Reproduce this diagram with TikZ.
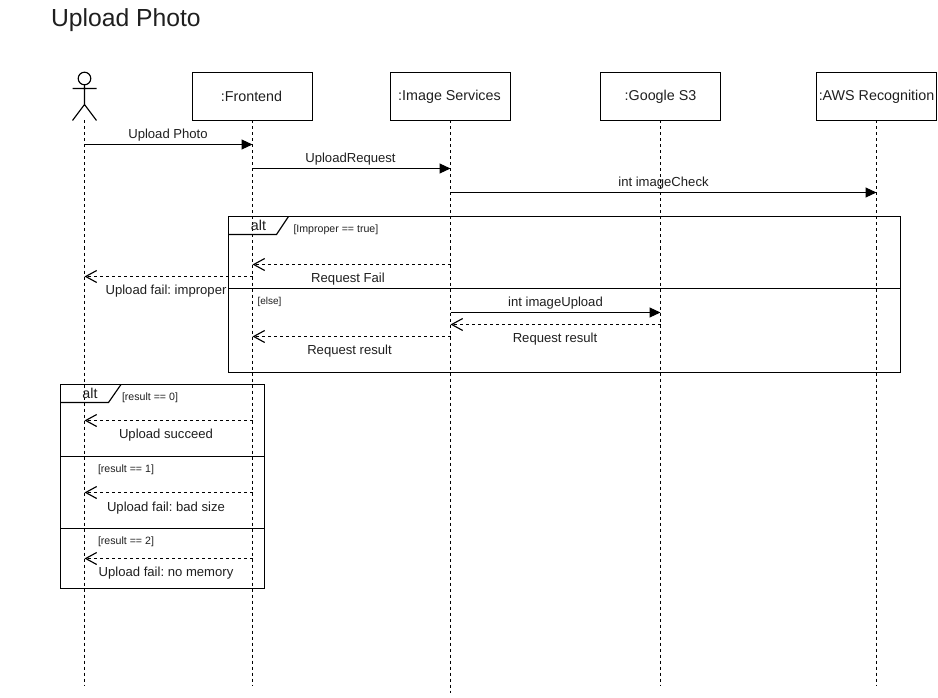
\documentclass[tikz,border=0pt]{standalone}
\usepackage{fontspec}
\setmainfont{Liberation Sans}
\usetikzlibrary{arrows.meta}
\definecolor{ink}{HTML}{000000}
\tikzset{
  x=1pt,y=-1pt,
  every node/.style={inner sep=0pt,outer sep=0pt,text=ink!88!white},
  headbox/.style={draw=ink,line width=1.15pt,minimum width=120pt,minimum height=48pt,font=\fontsize{14.3}{16}\selectfont},
  life/.style={draw=ink,line width=1.15pt,dash pattern=on 3pt off 3pt},
  call/.style={draw=ink,line width=1.15pt,-{Triangle[length=11pt,width=10pt]}},
  reply/.style={draw=ink,line width=1.15pt,dash pattern=on 3pt off 3pt,-{Straight Barb[length=11pt,width=12pt]}},
  msglabel/.style={font=\fontsize{13.1}{15}\selectfont,yshift=-2pt,xshift=-0.5pt},
  guard/.style={font=\fontsize{10.6}{12}\selectfont,anchor=west,yshift=-2pt},
  frameline/.style={draw=ink,line width=1.15pt},
  alttag/.style={font=\fontsize{14.3}{16}\selectfont},
}
\newcommand{\msgline}[5]{%
  \draw[#1] (#2 |- 0,#4) -- (#3 |- 0,#4);}
\begin{document}
\begin{tikzpicture}
\frenchspacing
\useasboundingbox (0,0) rectangle (938,698);
\node[anchor=west,font=\fontsize{24.7}{28}\selectfont] (title) at (51,20) {Upload Photo};
% actor
\coordinate (A) at (84.5,120.5);
\draw[line width=1.15pt,draw=ink] (84.5,78.5) circle (6.3);
\draw[line width=1.15pt,draw=ink] (84.5,84.5) -- (84.5,104.5) (72.5,88.5) -- (96.5,88.5) (72.5,120.5) -- (84.5,104.5) -- (96.5,120.5);
% heads
\node[headbox] (F) at (252.5,96.5) {\kern-2pt:Frontend};
\node[headbox] (I) at (450.5,96.5) {\kern-2pt:Image Services};
\node[headbox] (G) at (660.5,96.5) {:Google S3};
\node[headbox] (W) at (876.5,96.5) {:AWS Recognition};
\coordinate (Aend) at (84.5,685);
\coordinate (Fend) at (252.5,685);
\coordinate (Iend) at (450.5,693);
\coordinate (Gend) at (660.5,685);
\coordinate (Wend) at (876.5,685);
% lifelines
\draw[life] (A) -- (Aend);
\draw[life] (F) -- (Fend);
\draw[life] (I) -- (Iend);
\draw[life] (G) -- (Gend);
\draw[life] (W) -- (Wend);
% frame 1
\node[frameline,draw,minimum width=672pt,minimum height=156pt,anchor=north west] (f1) at (228.5,216.5) {};
\draw[frameline] (228.5,234.5) -- (276.5,234.5) -- (288.5,216.5);
\draw[frameline] (f1.west |- 0,288.5) -- (f1.east |- 0,288.5);
\node[alttag] (t1) at (258.5,225.5) {alt};
\node[guard] (g1) at (293.5,228) {[Improper == true]};
\node[guard,font=\fontsize{10}{12}\selectfont] (g2) at (257.5,300) {[else]};
% frame 2
\node[frameline,draw,minimum width=204pt,minimum height=204pt,anchor=north west] (f2) at (60.5,384.5) {};
\draw[frameline] (60.5,402.5) -- (108.5,402.5) -- (121,384.5);
\draw[frameline] (f2.west |- 0,456.5) -- (f2.east |- 0,456.5);
\draw[frameline] (f2.west |- 0,528.5) -- (f2.east |- 0,528.5);
\node[alttag] (t2) at (90,393.5) {alt};
\node[guard] (g3) at (122,396) {[result == 0]};
\node[guard] (g4) at (98,468) {[result == 1]};
\node[guard] (g5) at (98,540) {[result == 2]};
% messages
\msgline{call}{A}{F}{144.5}{}
\node[msglabel] at (168.5,133.5) {Upload Photo};
\msgline{call}{F}{I}{168.5}{}
\node[msglabel] at (351,157.5) {UploadRequest};
\msgline{call}{I}{W}{192.5}{}
\node[msglabel] at (664,181.5) {int imageCheck};
\msgline{reply}{I}{F}{264.5}{}
\node[msglabel] at (348.5,277.5) {Request Fail};
\msgline{reply}{F}{A}{276.5}{}
\node[msglabel] at (166.5,289.5) {Upload fail: improper};
\msgline{call}{I}{G}{312.5}{}
\node[msglabel] at (556,301.5) {int imageUpload};
\msgline{reply}{G}{I}{324.5}{}
\node[msglabel] at (555.5,337.5) {Request result};
\msgline{reply}{I}{F}{336.5}{}
\node[msglabel] at (350,349.5) {Request result};
\msgline{reply}{F}{A}{420.5}{}
\node[msglabel] at (166.5,433.5) {Upload succeed};
\msgline{reply}{F}{A}{492.5}{}
\node[msglabel] at (166.5,506.5) {Upload fail: bad size};
\msgline{reply}{F}{A}{558.5}{}
\node[msglabel] at (166.5,571.5) {Upload fail: no memory};
\end{tikzpicture}
\end{document}
